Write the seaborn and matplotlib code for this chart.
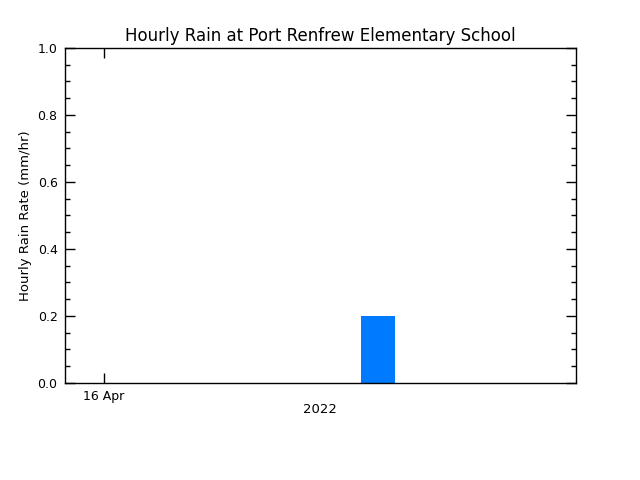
import matplotlib
matplotlib.use("Agg")
import matplotlib.pyplot as plt
import seaborn as sns
from matplotlib.ticker import MultipleLocator, FixedLocator

# hours after 16 Apr 2022 00:00 (bar centred on hour)
hours = [8.05]
rain = [0.2]
date_ticks = [0.0]
date_labels = ["16 Apr"]

sns.set_style("ticks", {"xtick.direction": "in", "ytick.direction": "in",
                        "text.color": "black", "axes.labelcolor": "black",
                        "xtick.color": "black", "ytick.color": "black",
                        "axes.edgecolor": "black"})
plt.rcParams["font.family"] = ["DejaVu Sans"]

fig = plt.figure(figsize=(6.4, 4.8), dpi=100)
ax = fig.add_axes([0.1008, 0.2021, 0.9 - 0.1008, 0.9 - 0.2021])

sns.histplot(x=hours, weights=rain, binwidth=1,
             binrange=(hours[0] - 0.5, hours[0] + 0.5),
             color="#007BFF", alpha=1, linewidth=0, ax=ax)

ax.set_xlim(-1.16, 13.88)
ax.set_ylim(0, 1.0)
ax.xaxis.set_major_locator(FixedLocator(date_ticks))
ax.set_xticklabels(date_labels)
ax.yaxis.set_major_locator(MultipleLocator(0.2))
ax.yaxis.set_minor_locator(MultipleLocator(0.05))
ax.set_yticklabels([f"{v:.1f}" for v in ax.get_yticks()])

ax.tick_params(which="both", direction="in", top=True, right=True,
               color="black", labelcolor="black", width=1, labelsize=9, pad=5)
ax.tick_params(which="major", length=7.2)
ax.tick_params(which="minor", length=3.6)
for s in ax.spines.values():
    s.set_color("black")
    s.set_linewidth(1)

ax.set_title("Hourly Rain at Port Renfrew Elementary School", fontsize=12,
             pad=5, color="black")
ax.set_ylabel("Hourly Rain Rate (mm/hr)", fontsize=9.5, labelpad=4)
ax.set_xlabel("2022", fontsize=9.5, labelpad=0)

fig.savefig("out.png", dpi=100)
